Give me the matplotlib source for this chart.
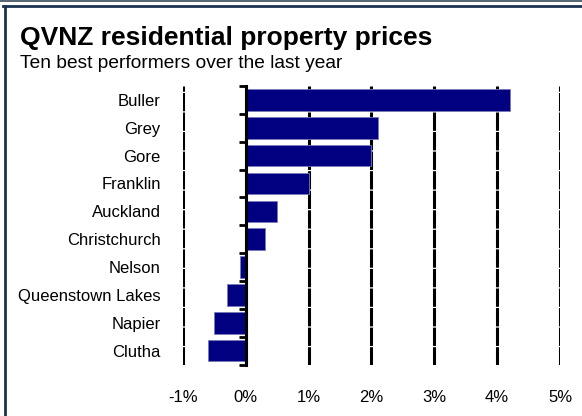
import matplotlib
matplotlib.use("Agg")
import matplotlib.pyplot as plt
from matplotlib.lines import Line2D

# 数据
regions = ["Buller", "Grey", "Gore", "Franklin", "Auckland", "Christchurch",
           "Nelson", "Queenstown Lakes", "Napier", "Clutha"]
changes = [4.2, 2.1, 2.0, 1.0, 0.5, 0.3, -0.1, -0.3, -0.5, -0.6]
xticks = [-1, 0, 1, 2, 3, 4, 5]
xlabels = ["-1%", "0%", "1%", "2%", "3%", "4%", "5%"]

plt.rcParams['font.family'] = ['Liberation Sans', 'DejaVu Sans']

fig = plt.figure(figsize=(5.82, 4.16), dpi=100)
ax = fig.add_axes([0.3144, 0.1236, 0.6478, 0.6697])

ypos = list(range(len(regions)))
ax.barh(ypos, changes, height=0.77, color="#000080", edgecolor="#7a7ab8",
        linewidth=0.6, zorder=3)

ax.set_xlim(-1, 5)
ax.set_ylim(len(regions) - 0.5, -0.5)
ax.set_xticks(xticks)
ax.set_xticklabels(xlabels)
ax.set_yticks(ypos)
ax.set_yticklabels(regions)
ax.set_yticks([i - 0.5 for i in range(len(regions) + 1)], minor=True)

# 网格线: 黑色细密虚线
ax.grid(axis='x', color='black', linestyle=(0, (6, 0.4)), linewidth=2.2, zorder=1)
ax.set_axisbelow(True)

for s in ["top", "bottom", "left"]:
    ax.spines[s].set_visible(False)
ax.spines["right"].set_position(("data", 0))
ax.spines["right"].set_linewidth(2.2)
ax.spines["right"].set_zorder(4)

ax.tick_params(axis='x', length=0, pad=18, labelsize=12)
ax.tick_params(axis='y', which='major', length=0, pad=16, left=True, right=False,
               labelsize=12)
ax.tick_params(axis='y', which='minor', left=False, right=True, direction='in',
               length=5, width=2)

# 标题
fig.text(20 / 582, 1 - 45 / 416, "QVNZ residential property prices",
         fontsize=19, fontweight='bold', ha='left', va='baseline')
fig.text(20 / 582, 1 - 68 / 416, "Ten best performers over the last year",
         fontsize=13.8, ha='left', va='baseline')

# 边框
fig.add_artist(Line2D([0, 1], [1 - 0.5 / 416, 1 - 0.5 / 416], color="#3a4a5a",
                      linewidth=1.2, transform=fig.transFigure))
fig.add_artist(Line2D([3 / 582, 1], [1 - 5.5 / 416, 1 - 5.5 / 416], color="#1c3350",
                      linewidth=2, transform=fig.transFigure))
fig.add_artist(Line2D([4.5 / 582, 4.5 / 582], [0, 1 - 5.5 / 416], color="#1c3350",
                      linewidth=2, transform=fig.transFigure))

fig.savefig("out.png", dpi=100)
